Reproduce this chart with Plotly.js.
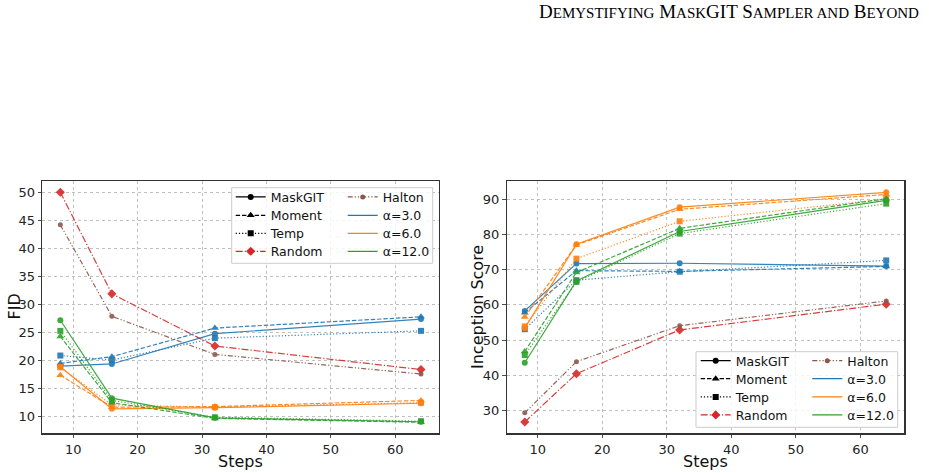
<!DOCTYPE html>
<html>
<head>
<meta charset="utf-8">
<script src="https://cdn.plot.ly/plotly-3.0.1.min.js"></script>
<style>
  html, body { margin: 0; padding: 0; background: #ffffff; }
  #chart { width: 929px; height: 473px; }
</style>
</head>
<body>
<div id="chart"></div>
<script>
// Sampling steps shared by both panels
const steps = [8, 16, 32, 64];

// FID (lower is better)
const fidMaskgitA3  = [19.0, 19.4, 24.8, 27.4];
const fidMomentA3   = [19.5, 20.7, 25.8, 27.8];
const fidTempA3     = [20.9, 20.1, 24.0, 25.3];
const fidMaskgitA6  = [18.9, 11.4, 11.6, 12.4];
const fidMomentA6   = [17.4, 11.7, 11.8, 12.9];
const fidTempA6     = [18.8, 12.1, 11.7, 12.5];
const fidMaskgitA12 = [27.2, 13.3, 9.8, 9.1];
const fidMomentA12  = [24.3, 12.5, 9.7, 9.0];
const fidTempA12    = [25.3, 12.9, 9.9, 9.2];
const fidRandom     = [50.0, 31.9, 22.6, 18.4];
const fidHalton     = [44.2, 27.9, 21.1, 17.6];

// Inception Score (higher is better)
const isMaskgitA3  = [58.3, 71.7, 71.8, 71.0];
const isMomentA3   = [57.8, 69.7, 69.5, 70.9];
const isTempA3     = [53.1, 67.0, 69.4, 72.6];
const isMaskgitA6  = [53.4, 77.2, 87.7, 91.9];
const isMomentA6   = [56.6, 77.0, 87.1, 91.3];
const isTempA6     = [53.9, 73.1, 83.7, 90.0];
const isMaskgitA12 = [43.6, 66.8, 80.8, 89.6];
const isMomentA12  = [46.8, 69.2, 81.7, 90.1];
const isTempA12    = [45.8, 66.5, 80.2, 88.7];
const isRandom     = [26.8, 40.5, 52.9, 60.2];
const isHalton     = [29.4, 43.9, 54.1, 61.1];

// Legend labels
const methodNames = ['MaskGIT', 'Moment', 'Temp', 'Random'];
const extraNames  = ['Halton', 'α=3.0', 'α=6.0', 'α=12.0'];

const W = 929, H = 473;
const px = v => v / W;
const py = v => 1 - v / H;

const C = {
  blue: '#1f77b4', orange: '#ff7f0e', green: '#2ca02c',
  red: '#d62728', brown: '#8c564b', black: '#000000'
};
const LW = 1.2;
const STYLE = {
  MaskGIT: { dash: 'solid', symbol: 'circle', size: 6 },
  Moment:  { dash: '4.4px,1.9px', symbol: 'triangle-up', size: 7 },
  Temp:    { dash: '1.2px,2px', symbol: 'square', size: 6 },
  Random:  { dash: '7px,2px,1.2px,2px', symbol: 'diamond', size: 7 },
  Halton:  { dash: '5px,2px,1.2px,2px,1.2px,2px', symbol: 'circle', size: 5 }
};

function series(y, color, style, xa, ya) {
  const s = STYLE[style];
  return {
    x: steps, y: y, xaxis: xa, yaxis: ya,
    type: 'scatter', mode: 'lines+markers',
    line: { color: color, width: LW, dash: s.dash },
    marker: { color: color, symbol: s.symbol, size: s.size, line: { width: 0 } },
    opacity: 0.9, showlegend: false, hoverinfo: 'x+y'
  };
}

function legendEntry(name, color, style, xa, ya, legendId, withMarker) {
  const s = STYLE[style];
  return {
    x: [null], y: [null], xaxis: xa, yaxis: ya,
    type: 'scatter', mode: withMarker ? 'lines+markers' : 'lines',
    name: name, legend: legendId, showlegend: true,
    line: { color: color, width: LW, dash: s.dash },
    marker: { color: color, symbol: s.symbol, size: s.size, line: { width: 0 } }
  };
}

// each legend row lives in its own legend box so rows can sit 18px apart
const legId = n => (n === 1 ? 'legend' : 'legend' + n);

function panel(xa, ya, d, firstLegend) {
  const out = [];
  const groups = [
    [C.blue,   d.m3,  d.mo3,  d.t3],
    [C.orange, d.m6,  d.mo6,  d.t6],
    [C.green,  d.m12, d.mo12, d.t12]
  ];
  groups.forEach(g => {
    out.push(series(g[1], g[0], 'MaskGIT', xa, ya));
    out.push(series(g[2], g[0], 'Moment', xa, ya));
    out.push(series(g[3], g[0], 'Temp', xa, ya));
  });
  out.push(series(d.rand, C.red, 'Random', xa, ya));
  out.push(series(d.halt, C.brown, 'Halton', xa, ya));

  const n = firstLegend;
  // first column: method styles
  out.push(legendEntry(methodNames[0], C.black, 'MaskGIT', xa, ya, legId(n), true));
  out.push(legendEntry(methodNames[1], C.black, 'Moment', xa, ya, legId(n + 1), true));
  out.push(legendEntry(methodNames[2], C.black, 'Temp', xa, ya, legId(n + 2), true));
  out.push(legendEntry(methodNames[3], C.red, 'Random', xa, ya, legId(n + 3), true));
  // second column: Halton and step-size colours
  out.push(legendEntry(extraNames[0], C.brown, 'Halton', xa, ya, legId(n + 4), true));
  out.push(legendEntry(extraNames[1], C.blue, 'MaskGIT', xa, ya, legId(n + 5), false));
  out.push(legendEntry(extraNames[2], C.orange, 'MaskGIT', xa, ya, legId(n + 6), false));
  out.push(legendEntry(extraNames[3], C.green, 'MaskGIT', xa, ya, legId(n + 7), false));
  return out;
}

const traces = [].concat(
  panel('x', 'y', {
    m3: fidMaskgitA3, mo3: fidMomentA3, t3: fidTempA3,
    m6: fidMaskgitA6, mo6: fidMomentA6, t6: fidTempA6,
    m12: fidMaskgitA12, mo12: fidMomentA12, t12: fidTempA12,
    rand: fidRandom, halt: fidHalton
  }, 1),
  panel('x2', 'y2', {
    m3: isMaskgitA3, mo3: isMomentA3, t3: isTempA3,
    m6: isMaskgitA6, mo6: isMomentA6, t6: isTempA6,
    m12: isMaskgitA12, mo12: isMomentA12, t12: isTempA12,
    rand: isRandom, halt: isHalton
  }, 9)
);

const tickFont = { family: 'DejaVu Sans', size: 13, color: '#222222' };
const titleFont = { family: 'DejaVu Sans', size: 16, color: '#111111' };

function xAxis(domain, anchor) {
  return {
    domain: domain, anchor: anchor, range: [5.2, 66.8],
    tickvals: [10, 20, 30, 40, 50, 60],
    ticks: 'outside', ticklen: 3.5, tickwidth: 0.8, tickcolor: '#222',
    tickfont: tickFont,
    showline: true, mirror: true, linecolor: '#333', linewidth: 1.2,
    showgrid: true, gridcolor: '#b0b0b0', griddash: 'dot', gridwidth: 0.8,
    zeroline: false
  };
}
function yAxis(domain, anchor, range, dtick) {
  return {
    domain: domain, anchor: anchor, range: range,
    tick0: 0, dtick: dtick,
    ticks: 'outside', ticklen: 3.5, tickwidth: 0.8, tickcolor: '#222',
    tickfont: tickFont,
    showline: true, mirror: true, linecolor: '#333', linewidth: 1.2,
    showgrid: true, gridcolor: '#b0b0b0', griddash: 'dot', gridwidth: 0.8,
    zeroline: false
  };
}

function legendRow(xText, yCenter) {
  return {
    x: px(xText - 40), y: py(yCenter), xanchor: 'left', yanchor: 'middle',
    bgcolor: 'rgba(0,0,0,0)', borderwidth: 0,
    font: { family: 'DejaVu Sans', size: 12.5, color: '#111' },
    itemclick: false, itemdoubleclick: false
  };
}

function legendBox(x0, y0, x1, y1) {
  return {
    type: 'rect', xref: 'paper', yref: 'paper', layer: 'above',
    x0: px(x0), x1: px(x1), y0: py(y1), y1: py(y0),
    fillcolor: 'rgba(255,255,255,0.8)',
    line: { color: '#cccccc', width: 1 }
  };
}

function axisTitle(text, x, y, angle) {
  return {
    xref: 'paper', yref: 'paper', x: px(x), y: py(y),
    xanchor: 'center', yanchor: 'middle', showarrow: false, borderpad: 0,
    text: text, textangle: angle, font: titleFont
  };
}

const smallCap = t => '<span style="font-size:15px">' + t + '</span>';
const header = 'D' + smallCap('EMYSTIFYING') + ' M' + smallCap('ASK') + 'GIT S' +
  smallCap('AMPLER AND') + ' B' + smallCap('EYOND');

const layout = {
  width: W, height: H,
  margin: { l: 0, r: 0, t: 0, b: 0 },
  paper_bgcolor: '#ffffff', plot_bgcolor: '#ffffff',
  showlegend: true,
  xaxis:  xAxis([px(42.3), px(439)], 'y'),
  yaxis:  yAxis([py(433.3), py(180.7)], 'x', [7.04, 52.07], 5),
  xaxis2: xAxis([px(506.7), px(904.3)], 'y2'),
  yaxis2: yAxis([py(433.3), py(180.7)], 'x2', [23.6, 95.2], 10),
  shapes: [
    legendBox(231.7, 187.7, 432.7, 263.3),
    legendBox(696, 351.7, 897.7, 427.3)
  ],
  annotations: [
    {
      xref: 'paper', yref: 'paper', x: px(921), y: py(0),
      xanchor: 'right', yanchor: 'top', showarrow: false, yshift: 1,
      text: header,
      font: { family: 'Liberation Serif', size: 19, color: '#000' }
    },
    axisTitle('Steps', 240.7, 461, 0),
    axisTitle('Steps', 705.5, 461, 0),
    axisTitle('FID', 13.5, 307, -90),
    axisTitle('Inception Score', 477, 307, -90)
  ]
};

// legend rows: left panel then right panel, two columns of four rows each
const rowsLeft  = [197.3, 215.7, 233.7, 251.7];
const rowsRight = [361, 379, 397.3, 415.3];
const colsLeft  = [270.7, 382.7];
const colsRight = [735.7, 847.3];
[[rowsLeft, colsLeft, 1], [rowsRight, colsRight, 9]].forEach(([rows, cols, base]) => {
  cols.forEach((cx, c) => {
    rows.forEach((ry, r) => {
      layout[legId(base + c * 4 + r)] = legendRow(cx, ry);
    });
  });
});

Plotly.newPlot('chart', traces, layout, { staticPlot: true, displayModeBar: false });
</script>
</body>
</html>
